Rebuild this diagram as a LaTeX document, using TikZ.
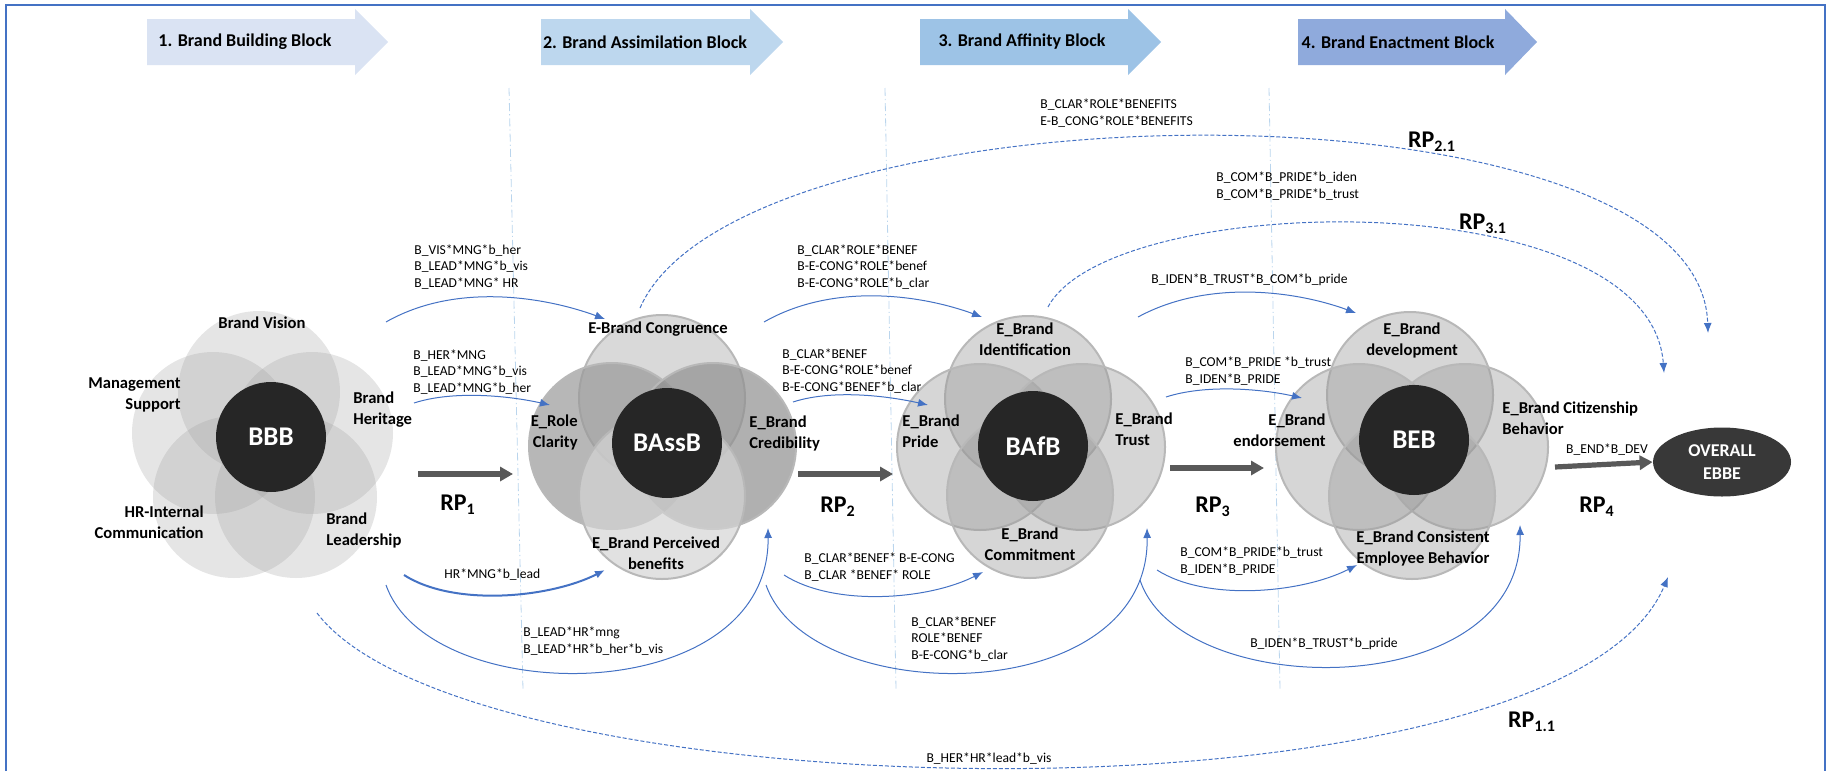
\documentclass[tikz,border=0pt]{standalone}
\usepackage{fontspec}
\setmainfont{Carlito}
\usetikzlibrary{arrows.meta,shapes.geometric}
\definecolor{hdA}{HTML}{DAE3F3}
\definecolor{hdB}{HTML}{BDD7EE}
\definecolor{hdC}{HTML}{9DC3E6}
\definecolor{hdD}{HTML}{8FAADC}
\definecolor{linkblue}{HTML}{4472C4}
\definecolor{rpgray}{HTML}{595959}
\definecolor{coreblack}{HTML}{262626}

\begin{document}
\begin{tikzpicture}[x=0.5pt,y=-0.5pt,
	lab/.style={font=\fontsize{6.8}{8.2}\selectfont, align=left, inner sep=0pt},
	ptxt/.style={font=\bfseries\fontsize{8.3}{10.5}\selectfont, inner sep=0pt},
	hdtxt/.style={font=\bfseries\fontsize{9}{11}\selectfont, inner sep=0pt},
	rplab/.style={font=\bfseries\fontsize{12}{14}\selectfont, inner sep=0pt},
	core/.style={circle, fill=coreblack, minimum size=55pt, inner sep=0pt, text=white, font=\bfseries\fontsize{13.5}{15}\selectfont},
	bbbpetal/.style={circle, fill=black!40, fill opacity=0.25, minimum size=81pt, inner sep=0pt},
	petal/.style={circle, draw=black!28, line width=1pt, fill=black!40, fill opacity=0.4, minimum size=83pt, inner sep=0pt},
	link/.style={linkblue, line width=0.5pt, -{Latex[length=5pt,width=4pt]}},
	dlink/.style={link, dash pattern=on 2pt off 1pt},
	rparrow/.style={rpgray, line width=2.6pt, -{Triangle[length=6.5pt,width=7pt]}},
	vline/.style={hdC!70, line width=0.4pt, dash pattern=on 4pt off 1.5pt on 0.6pt off 1.5pt}]
	\useasboundingbox (0,0) rectangle (1829,771);
	% frame
	\draw[linkblue, line width=1pt] (6,771) -- (6,5) -- (1825,5) -- (1825,771);
	% block headers
	\fill[hdA] (147,19) -- (355,19) -- (355,9) -- (388,42) -- (355,75) -- (355,65) -- (147,65) -- cycle;
	\fill[hdB] (541,19) -- (750,19) -- (750,9) -- (783,42) -- (750,75) -- (750,65) -- (541,65) -- cycle;
	\fill[hdC] (920,19) -- (1128,19) -- (1128,9) -- (1161,42) -- (1128,75) -- (1128,65) -- (920,65) -- cycle;
	\fill[hdD] (1298,19) -- (1505,19) -- (1505,9) -- (1537,42) -- (1505,75) -- (1505,65) -- (1298,65) -- cycle;
	\draw (245,42) node[hdtxt] (hd1) {1. Brand Building Block};
	\draw (645,42) node[hdtxt] (hd2) {2. Brand Assimilation Block};
	\draw (1022,42) node[hdtxt] (hd3) {3. Brand Affinity Block};
	\draw (1398,42) node[hdtxt] (hd4) {4. Brand Enactment Block};
	% separators
	\draw[vline] (509,88) -- (523,690);
	\draw[vline] (885,88) -- (896,690);
	\draw[vline] (1269,88) -- (1280,690);

	% BBB
	\draw (259,392) node[bbbpetal] (bbbT) {};
	\draw (213,433) node[bbbpetal] (bbbL) {};
	\draw (312,433) node[bbbpetal] (bbbR) {};
	\draw (234,497) node[bbbpetal] (bbbLL) {};
	\draw (296,497) node[bbbpetal] (bbbLR) {};
	\draw (271,437) node[core] (bbb) {BBB};
	\draw (262,323) node[ptxt] (visn) {Brand Vision};
	\draw (181,395) node[ptxt, anchor=east, align=right] (mngs) {Management\\Support};
	\draw (353,410) node[ptxt, anchor=west, align=left] (heri) {Brand\\Heritage};
	\draw (204,522) node[ptxt, anchor=east, align=right] (hric) {HR-Internal\\Communication};
	\draw (326,530) node[ptxt, anchor=west, align=left] (lead) {Brand\\Leadership};

	% BAssB
	\draw (662,398) node[petal, fill=black!21, fill opacity=0.7] (bassT) {};
	\draw (612,446) node[petal, fill=black!40, fill opacity=0.7] (bassL) {};
	\draw (713,446) node[petal, fill=black!44, fill opacity=0.7] (bassR) {};
	\draw (662,496) node[petal, fill=black!17, fill opacity=0.7] (bassB) {};
	\draw (667,443) node[core] (bass) {BAssB};
	\draw (658,329) node[ptxt] (cong) {E-Brand Congruence};
	\draw (578,432) node[ptxt, anchor=east, align=right] (clar) {E\_Role\\Clarity};
	\draw (749,433) node[ptxt, anchor=west, align=left] (cred) {E\_Brand\\Credibility};
	\draw (656,553) node[ptxt, align=center] (bene) {E\_Brand Perceived\\benefits};

	% BAfB
	\draw (1028,399) node[petal] (bafT) {};
	\draw (980,447) node[petal] (bafL) {};
	\draw (1082,447) node[petal] (bafR) {};
	\draw (1030,495) node[petal] (bafB) {};
	\draw (1033,446) node[core] (baf) {BAfB};
	\draw (1025,339) node[ptxt, align=center] (iden) {E\_Brand\\Identification};
	\draw (902,431) node[ptxt, anchor=west, align=left] (prid) {E\_Brand\\Pride};
	\draw (1115,429) node[ptxt, anchor=west, align=left] (trus) {E\_Brand\\Trust};
	\draw (1030,544) node[ptxt, align=center] (comm) {E\_Brand\\Commitment};

	% BEB
	\draw (1410,395) node[petal] (bebT) {};
	\draw (1359,447) node[petal] (bebL) {};
	\draw (1465,447) node[petal] (bebR) {};
	\draw (1412,496) node[petal] (bebB) {};
	\draw (1414,440) node[core] (beb) {BEB};
	\draw (1412,340) node[ptxt, align=center] (devl) {E\_Brand\\development};
	\draw (1326,430) node[ptxt, anchor=east, align=right] (endo) {E\_Brand\\endorsement};
	\draw (1502,418) node[ptxt, anchor=west, align=left] (citz) {E\_Brand Citizenship\\Behavior};
	\draw (1423,548) node[ptxt, align=center] (cons) {E\_Brand Consistent\\Employee Behavior};

	% outcome
	\draw (1722,462) node[ellipse, fill=black!78, minimum width=69pt, minimum height=34.5pt, inner sep=0pt, text=white, align=center, font=\bfseries\fontsize{9}{11.3}\selectfont] (ebbe) {OVERALL\\EBBE};

	% main paths
	\coordinate (r1s) at (418,474); \coordinate (r1e) at (513,474);
	\coordinate (r2s) at (798,474); \coordinate (r2e) at (893,474);
	\coordinate (r3s) at (1170,468); \coordinate (r3e) at (1264,468);
	\coordinate (r4s) at (1555,467);
	\draw[rparrow] (r1s) -- (r1e);
	\draw[rparrow] (r2s) -- (r2e);
	\draw[rparrow] (r3s) -- (r3e);
	\draw[rparrow] (r4s) -- (ebbe.west);
	\draw (458,505) node[rplab] (rp1) {RP\textsubscript{1}};
	\draw (838,507) node[rplab] (rp2) {RP\textsubscript{2}};
	\draw (1213,507) node[rplab] (rp3) {RP\textsubscript{3}};
	\draw (1597,507) node[rplab] (rp4) {RP\textsubscript{4}};
	\draw (1607,450) node[lab] (endv) {B\_END*B\_DEV};

	% upper links
	\coordinate (a1s) at (386,322); \coordinate (a1e) at (605,319);
	\coordinate (a2s) at (414,403); \coordinate (a2e) at (550,405);
	\coordinate (a5s) at (764,322); \coordinate (a5e) at (982,317);
	\coordinate (a6s) at (793,402); \coordinate (a6e) at (928,405);
	\coordinate (a9s) at (1138,317); \coordinate (a9e) at (1356,313);
	\coordinate (a10s) at (1166,397); \coordinate (a10e) at (1302,398);
	\draw[link] (a1s) .. controls +(70,-40) and +(-60,-22) .. (a1e);
	\draw[link] (a2s) .. controls +(40,-13) and +(-40,-9) .. (a2e);
	\draw[link] (a5s) .. controls +(70,-40) and +(-60,-22) .. (a5e);
	\draw[link] (a6s) .. controls +(40,-13) and +(-40,-9) .. (a6e);
	\draw[link] (a9s) .. controls +(70,-38) and +(-60,-22) .. (a9e);
	\draw[link] (a10s) .. controls +(40,-13) and +(-40,-9) .. (a10e);
	\draw (414,267) node[lab, anchor=west] (l1) {B\_VIS*MNG*b\_her\\B\_LEAD*MNG*b\_vis\\B\_LEAD*MNG* HR};
	\draw (413,372) node[lab, anchor=west] (l2) {B\_HER*MNG\\B\_LEAD*MNG*b\_vis\\B\_LEAD*MNG*b\_her};
	\draw (797,267) node[lab, anchor=west] (l5) {B\_CLAR*ROLE*BENEF\\B-E-CONG*ROLE*benef\\B-E-CONG*ROLE*b\_clar};
	\draw (782,371) node[lab, anchor=west] (l6) {B\_CLAR*BENEF\\B-E-CONG*ROLE*benef\\B-E-CONG*BENEF*b\_clar};
	\draw (1151,280) node[lab, anchor=west] (l11) {B\_IDEN*B\_TRUST*B\_COM*b\_pride};
	\draw (1185,371) node[lab, anchor=west] (l12) {B\_COM*B\_PRIDE *b\_trust\\B\_IDEN*B\_PRIDE};

	% lower links
	\coordinate (a3s) at (404,575); \coordinate (a3e) at (605,570);
	\coordinate (a4s) at (386,585); \coordinate (a4e) at (768,528);
	\coordinate (a7s) at (784,575); \coordinate (a7e) at (983,572);
	\coordinate (a8s) at (766,585); \coordinate (a8e) at (1147,528);
	\coordinate (a11s) at (1157,570); \coordinate (a11e) at (1357,565);
	\coordinate (a12s) at (1140,580); \coordinate (a12e) at (1520,525);
	\draw[link, line width=1pt] (a3s) .. controls +(50,32) and +(-55,28) .. (a3e);
	\draw[link] (a4s) .. controls (430,710) and (770,710) .. (a4e);
	\draw[link] (a7s) .. controls +(50,32) and +(-55,28) .. (a7e);
	\draw[link] (a8s) .. controls (810,710) and (1150,710) .. (a8e);
	\draw[link] (a11s) .. controls +(50,32) and +(-55,28) .. (a11e);
	\draw[link] (a12s) .. controls (1180,702) and (1522,705) .. (a12e);
	\draw (444,575) node[lab, anchor=west] (l3) {HR*MNG*b\_lead};
	\draw (523,641) node[lab, anchor=west] (l4) {B\_LEAD*HR*mng\\B\_LEAD*HR*b\_her*b\_vis};
	\draw (804,567) node[lab, anchor=west] (l7) {B\_CLAR*BENEF* B-E-CONG\\B\_CLAR *BENEF* ROLE};
	\draw (911,639) node[lab, anchor=west] (l8) {B\_CLAR*BENEF\\ROLE*BENEF\\B-E-CONG*b\_clar};
	\draw (1180,561) node[lab, anchor=west] (l13) {B\_COM*B\_PRIDE*b\_trust\\B\_IDEN*B\_PRIDE};
	\draw (1324,644) node[lab] (l14) {B\_IDEN*B\_TRUST*b\_pride};

	% long-range links
	\coordinate (d1s) at (640,308); \coordinate (d1e) at (1708,333);
	\coordinate (d2s) at (1048,307); \coordinate (d2e) at (1664,373);
	\coordinate (d3s) at (317,613); \coordinate (d3e) at (1668,577);
	\draw[dlink] (d1s) .. controls (740,80) and (1700,70) .. (d1e);
	\draw[dlink] (d2s) .. controls (1110,190) and (1650,180) .. (d2e);
	\draw[dlink] (d3s) .. controls (470,815) and (1560,835) .. (d3e);
	\draw (1040,113) node[lab, anchor=west] (l9) {B\_CLAR*ROLE*BENEFITS\\E-B\_CONG*ROLE*BENEFITS};
	\draw (1216,186) node[lab, anchor=west] (l10) {B\_COM*B\_PRIDE*b\_iden\\B\_COM*B\_PRIDE*b\_trust};
	\draw (989,759) node[lab] (l15) {B\_HER*HR*lead*b\_vis};
	\draw (1432,142) node[rplab] (rp21) {RP\textsubscript{2.1}};
	\draw (1483,224) node[rplab] (rp31) {RP\textsubscript{3.1}};
	\draw (1532,722) node[rplab] (rp11) {RP\textsubscript{1.1}};
\end{tikzpicture}
\end{document}
